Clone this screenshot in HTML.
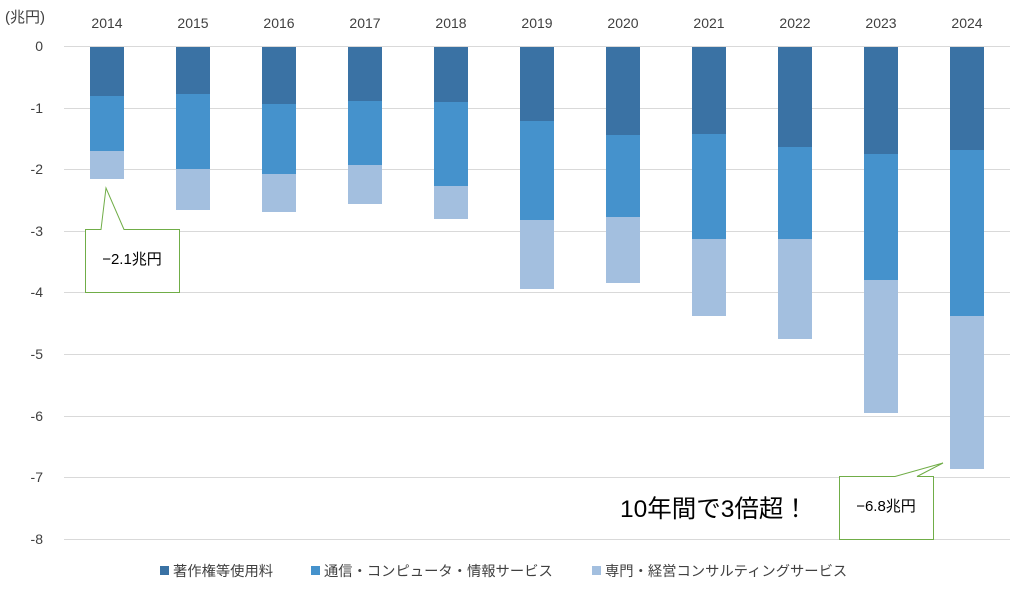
<!DOCTYPE html>
<html><head><meta charset="utf-8"><style>
body{margin:0;background:#fff}
svg{display:block;font-family:"Liberation Sans","Noto Sans CJK JP",sans-serif}
</style></head><body>
<svg width="1018" height="591" xmlns="http://www.w3.org/2000/svg">
<rect width="1018" height="591" fill="#fff"/>
<g stroke="#d9d9d9" stroke-width="1">
<line x1="64" x2="1010" y1="46.5" y2="46.5"/>
<line x1="64" x2="1010" y1="108.5" y2="108.5"/>
<line x1="64" x2="1010" y1="169.5" y2="169.5"/>
<line x1="64" x2="1010" y1="231.5" y2="231.5"/>
<line x1="64" x2="1010" y1="292.5" y2="292.5"/>
<line x1="64" x2="1010" y1="354.5" y2="354.5"/>
<line x1="64" x2="1010" y1="416.5" y2="416.5"/>
<line x1="64" x2="1010" y1="477.5" y2="477.5"/>
<line x1="64" x2="1010" y1="539.5" y2="539.5"/>
</g>
<g font-size="14" fill="#404040" text-anchor="end">
<text x="43" y="51">0</text><text x="43" y="113">-1</text><text x="43" y="174">-2</text>
<text x="43" y="236">-3</text><text x="43" y="297">-4</text><text x="43" y="359">-5</text>
<text x="43" y="421">-6</text><text x="43" y="482">-7</text><text x="43" y="544">-8</text>
</g>
<text x="5" y="22" font-size="15" fill="#404040">(兆円)</text>
<g font-size="14" fill="#404040" text-anchor="middle">
<text x="107" y="28">2014</text><text x="193" y="28">2015</text><text x="279" y="28">2016</text>
<text x="365" y="28">2017</text><text x="451" y="28">2018</text><text x="537" y="28">2019</text>
<text x="623" y="28">2020</text><text x="709" y="28">2021</text><text x="795" y="28">2022</text>
<text x="881" y="28">2023</text><text x="967" y="28">2024</text>
</g>
<g>
<rect x="90" y="47" width="34" height="49" fill="#3a72a4"/><rect x="90" y="96" width="34" height="55" fill="#4592cc"/><rect x="90" y="151" width="34" height="28" fill="#a3bfdf"/>
<rect x="176" y="47" width="34" height="47" fill="#3a72a4"/><rect x="176" y="94" width="34" height="75" fill="#4592cc"/><rect x="176" y="169" width="34" height="41" fill="#a3bfdf"/>
<rect x="262" y="47" width="34" height="57" fill="#3a72a4"/><rect x="262" y="104" width="34" height="70" fill="#4592cc"/><rect x="262" y="174" width="34" height="38" fill="#a3bfdf"/>
<rect x="348" y="47" width="34" height="54" fill="#3a72a4"/><rect x="348" y="101" width="34" height="64" fill="#4592cc"/><rect x="348" y="165" width="34" height="39" fill="#a3bfdf"/>
<rect x="434" y="47" width="34" height="55" fill="#3a72a4"/><rect x="434" y="102" width="34" height="84" fill="#4592cc"/><rect x="434" y="186" width="34" height="33" fill="#a3bfdf"/>
<rect x="520" y="47" width="34" height="74" fill="#3a72a4"/><rect x="520" y="121" width="34" height="99" fill="#4592cc"/><rect x="520" y="220" width="34" height="69" fill="#a3bfdf"/>
<rect x="606" y="47" width="34" height="88" fill="#3a72a4"/><rect x="606" y="135" width="34" height="82" fill="#4592cc"/><rect x="606" y="217" width="34" height="66" fill="#a3bfdf"/>
<rect x="692" y="47" width="34" height="87" fill="#3a72a4"/><rect x="692" y="134" width="34" height="105" fill="#4592cc"/><rect x="692" y="239" width="34" height="77" fill="#a3bfdf"/>
<rect x="778" y="47" width="34" height="100" fill="#3a72a4"/><rect x="778" y="147" width="34" height="92" fill="#4592cc"/><rect x="778" y="239" width="34" height="100" fill="#a3bfdf"/>
<rect x="864" y="47" width="34" height="107" fill="#3a72a4"/><rect x="864" y="154" width="34" height="126" fill="#4592cc"/><rect x="864" y="280" width="34" height="133" fill="#a3bfdf"/>
<rect x="950" y="47" width="34" height="103" fill="#3a72a4"/><rect x="950" y="150" width="34" height="166" fill="#4592cc"/><rect x="950" y="316" width="34" height="153" fill="#a3bfdf"/>
</g>
<path d="M85.5 229.5 H101 L106 188 L124 229.5 H179.5 V292.5 H85.5 Z" fill="#fff" stroke="#70ad47" stroke-width="1"/>
<text x="132" y="264" font-size="15" fill="#000" text-anchor="middle">−2.1兆円</text>
<path d="M839.5 476.5 H895 L943 463 L917 476.5 H933.5 V539.5 H839.5 Z" fill="#fff" stroke="#70ad47" stroke-width="1"/>
<text x="886" y="511" font-size="15" fill="#000" text-anchor="middle">−6.8兆円</text>
<text x="620" y="517" font-size="24.5" fill="#000">10年間で3倍超！</text>
<g font-size="14.3" fill="#404040">
<rect x="160" y="566" width="9" height="9" fill="#3a72a4"/><text x="173" y="576">著作権等使用料</text>
<rect x="311" y="566" width="9" height="9" fill="#4592cc"/><text x="324" y="576">通信・コンピュータ・情報サービス</text>
<rect x="592" y="566" width="9" height="9" fill="#a3bfdf"/><text x="605" y="576">専門・経営コンサルティングサービス</text>
</g>
</svg>
</body></html>
